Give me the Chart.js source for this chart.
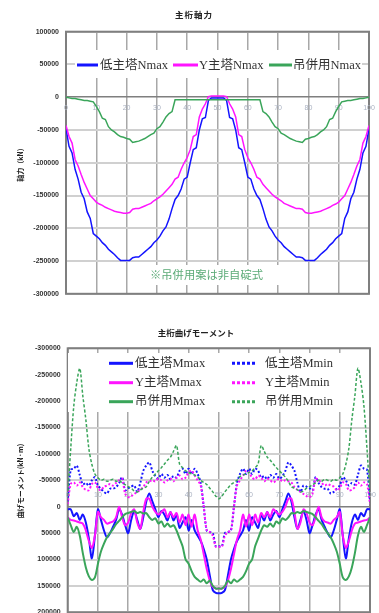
<!DOCTYPE html>
<html>
<head>
<meta charset="utf-8">
<script src="https://cdn.jsdelivr.net/npm/chart.js@4.4.1/dist/chart.umd.min.js"></script>
<style>
html, body { margin: 0; padding: 0; width: 379px; height: 613px; overflow: hidden; background: #fff; }
#axialChart { position: absolute; left: 0; top: 0; }
#momentChart { position: absolute; left: 0; top: 310px; }
</style>
</head>
<body>
<canvas id="axialChart" width="379" height="305"></canvas>
<canvas id="momentChart" width="379" height="320"></canvas>
<script>
/* 位置 (0〜100) */
const positions = [0,1,2,3,4,5,6,7,8,9,10,11,12,13,14,15,16,17,18,19,20,21,22,23,24,25,26,27,28,29,30,31,32,33,34,35,36,37,38,39,40,41,42,43,44,45,46,47,48,49,50,51,52,53,54,55,56,57,58,59,60,61,62,63,64,65,66,67,68,69,70,71,72,73,74,75,76,77,78,79,80,81,82,83,84,85,86,87,88,89,90,91,92,93,94,95,96,97,98,99,100];

/* 主桁軸力 (kN) */
const axialLabels = ['低主塔Nmax', 'Y主塔Nmax', '吊併用Nmax'];
const axialLow = [-48000,-75000,-85000,-110000,-125000,-145000,-155000,-175000,-185000,-208000,-212000,-216000,-222000,-226000,-232000,-236000,-240000,-245000,-249000,-249000,-249000,-249000,-245000,-244000,-244000,-240000,-236000,-232000,-228000,-222000,-218000,-212000,-204000,-198000,-186000,-170000,-156000,-150000,-140000,-125000,-122000,-100000,-80000,-77000,-50000,-33000,-31000,-5000,-1000,-1000,-1000,
  -1000,-1000,-5000,-31000,-33000,-50000,-77000,-80000,-100000,-122000,-125000,-140000,-150000,-156000,-170000,-186000,-198000,-204000,-212000,-218000,-222000,-228000,-232000,-236000,-240000,-244000,-244000,-245000,-249000,-249000,-249000,-249000,-245000,-240000,-236000,-232000,-226000,-222000,-216000,-212000,-208000,-185000,-175000,-155000,-145000,-125000,-110000,-85000,-75000,-48000];
const axialY = [-43000,-60000,-70000,-95000,-105000,-118000,-130000,-140000,-150000,-155000,-160000,-163000,-165000,-168000,-170000,-172000,-174000,-175000,-176000,-177000,-177000,-176000,-171000,-170000,-170000,-168000,-166000,-164000,-162000,-158000,-155000,-152000,-148000,-143000,-138000,-133000,-125000,-122000,-110000,-100000,-92000,-80000,-60000,-57000,-30000,-18000,-10000,1000,2000,2000,2000,
  2000,2000,1000,-10000,-18000,-30000,-57000,-60000,-80000,-92000,-100000,-110000,-122000,-125000,-133000,-138000,-143000,-148000,-152000,-155000,-158000,-162000,-164000,-166000,-168000,-170000,-170000,-171000,-176000,-177000,-177000,-176000,-175000,-174000,-172000,-170000,-168000,-165000,-163000,-160000,-155000,-150000,-140000,-130000,-118000,-105000,-95000,-70000,-60000,-43000];
const axialHang = [0,-1000,-2000,-2000,-3000,-4000,-5000,-5000,-6000,-7000,-14000,-22000,-32000,-34000,-45000,-50000,-53000,-57000,-60000,-61000,-63000,-64000,-69000,-68000,-67000,-65000,-63000,-60000,-57000,-55000,-48000,-45000,-38000,-30000,-25000,-22000,-4000,-4000,-4000,-4000,-4000,-4000,-4000,-4000,-4000,-4000,-4000,-4000,-4000,-4000,-4000,
  -4000,-4000,-4000,-4000,-4000,-4000,-4000,-4000,-4000,-4000,-4000,-4000,-4000,-4000,-22000,-25000,-30000,-38000,-45000,-48000,-55000,-57000,-60000,-63000,-65000,-67000,-68000,-69000,-64000,-63000,-61000,-60000,-57000,-53000,-50000,-45000,-34000,-32000,-22000,-14000,-7000,-6000,-5000,-5000,-4000,-3000,-2000,-2000,-1000,0];

/* 主桁曲げモーメント (kN·m) */
const momentLabels = ['低主塔Mmax', 'Y主塔Mmax', '吊併用Mmax', '低主塔Mmin', 'Y主塔Mmin', '吊併用Mmin'];
const momentMaxLow = [5000,5000,18000,12000,25000,15000,30000,60000,98000,55000,5000,25000,45000,58000,50000,38000,25000,5000,15000,35000,50000,25000,8000,25000,42000,20000,-10000,-25000,-10000,5000,20000,8000,15000,26000,10000,26000,15000,40000,30000,20000,45000,25000,45000,55000,65000,80000,100000,130000,158000,163000,164000,
  163000,158000,130000,100000,80000,65000,55000,45000,25000,45000,20000,30000,40000,15000,26000,10000,26000,15000,8000,20000,5000,-10000,-25000,-10000,20000,42000,25000,8000,25000,50000,35000,15000,5000,25000,38000,50000,58000,45000,25000,5000,55000,98000,60000,30000,15000,25000,12000,18000,5000,5000];
const momentMaxY = [20000,25000,26000,28000,30000,32000,45000,65000,78000,55000,10000,20000,25000,32000,30000,28000,20000,0,20000,35000,30000,12000,5000,30000,42000,10000,-15000,-15000,0,10000,15000,10000,5000,20000,10000,20000,12000,30000,15000,35000,15000,38000,15000,45000,62000,90000,118000,140000,152000,155000,155000,
  155000,152000,140000,118000,90000,62000,45000,15000,38000,15000,35000,15000,30000,12000,20000,10000,20000,5000,10000,15000,10000,0,-15000,-15000,10000,42000,30000,5000,12000,30000,35000,20000,0,20000,28000,30000,32000,25000,20000,10000,55000,78000,65000,45000,32000,30000,28000,26000,25000,20000];
const momentMaxHang = [20000,35000,48000,38000,55000,88000,115000,132000,139000,134000,108000,85000,70000,58000,50000,42000,33000,27000,20000,14000,12000,10000,8000,12000,10000,13000,12000,20000,25000,22000,32000,28000,38000,32000,38000,35000,45000,60000,75000,100000,108000,122000,133000,138000,142000,138000,145000,140000,150000,155000,155000,
  155000,150000,140000,145000,138000,142000,138000,133000,122000,108000,100000,75000,60000,45000,35000,38000,32000,38000,28000,32000,22000,25000,20000,12000,13000,10000,12000,8000,10000,12000,14000,20000,27000,33000,42000,50000,58000,70000,85000,108000,134000,139000,132000,115000,88000,55000,38000,48000,35000,20000];
const momentMinLow = [-10000,-70000,-72000,-78000,-60000,-42000,-45000,-40000,-50000,-56000,-40000,-34000,-28000,-25000,-34000,-34000,-37000,-45000,-56000,-31000,-35000,-38000,-40000,-28000,-45000,-68000,-78000,-84000,-68000,-58000,-53000,-62000,-55000,-60000,-52000,-58000,-55000,-68000,-72000,-62000,-72000,-62000,-72000,-62000,-45000,0,45000,48000,50000,75000,75000,
  75000,50000,48000,45000,0,-45000,-62000,-72000,-62000,-72000,-62000,-72000,-68000,-55000,-58000,-52000,-60000,-55000,-62000,-53000,-58000,-68000,-84000,-78000,-68000,-45000,-28000,-40000,-38000,-35000,-31000,-56000,-45000,-37000,-34000,-34000,-25000,-28000,-34000,-40000,-56000,-50000,-40000,-45000,-42000,-60000,-78000,-72000,-70000,-10000];
const momentMinY = [-5000,-43000,-46000,-40000,-46000,-37000,-32000,-31000,-43000,-46000,-35000,-31000,-38000,-40000,-43000,-40000,-45000,-50000,-53000,-25000,-18000,-20000,-24000,-28000,-32000,-37000,-46000,-48000,-50000,-48000,-53000,-50000,-46000,-50000,-53000,-48000,-55000,-59000,-52000,-55000,-65000,-68000,-59000,-50000,-40000,0,45000,48000,55000,76000,76000,
  76000,55000,48000,45000,0,-40000,-50000,-59000,-68000,-65000,-55000,-52000,-59000,-55000,-48000,-53000,-50000,-46000,-50000,-53000,-48000,-50000,-48000,-46000,-37000,-32000,-28000,-24000,-20000,-18000,-25000,-53000,-50000,-45000,-40000,-43000,-40000,-38000,-31000,-35000,-46000,-43000,-31000,-32000,-37000,-46000,-40000,-46000,-43000,-5000];
const momentMinHang = [-20000,-110000,-190000,-235000,-262000,-210000,-165000,-110000,-80000,-62000,-55000,-50000,-52000,-48000,-50000,-52000,-48000,-50000,-45000,-42000,-38000,-35000,-30000,-28000,-32000,-35000,-38000,-48000,-56000,-62000,-68000,-74000,-81000,-88000,-94000,-105000,-116000,-81000,-74000,-68000,-65000,-62000,-60000,-57000,-50000,-46000,-42000,-35000,-28000,-20000,-15000,
  -20000,-28000,-35000,-42000,-46000,-50000,-57000,-60000,-62000,-65000,-68000,-74000,-81000,-116000,-105000,-94000,-88000,-81000,-74000,-68000,-62000,-56000,-48000,-38000,-35000,-32000,-28000,-30000,-35000,-38000,-42000,-45000,-50000,-48000,-52000,-50000,-48000,-52000,-50000,-55000,-62000,-80000,-110000,-165000,-210000,-262000,-235000,-190000,-110000,-20000];

const BLUE = '#1414ff';
const MAGENTA = '#ff14ff';
const GREEN = '#3aa55a';

const pts = (ys) => positions.map((x, i) => ({ x: x, y: ys[i] }));

// 枠・凡例・注記・軸ラベルの描画
function decor(cfg) {
  return {
    id: 'decor',
    beforeDatasetsDraw(chart) {
      const ctx = chart.ctx;
      const a = chart.chartArea;
      const xs = chart.scales.x;
      const ys = chart.scales.y;
      ctx.save();
      ctx.strokeStyle = '#7f7f7f';
      ctx.lineWidth = 2;
      ctx.strokeRect(a.left, a.top, a.right - a.left, a.bottom - a.top);

      // x軸目盛ラベル (0 の線上)
      const y0 = ys.getPixelForValue(0);
      ctx.fillStyle = '#aab2c2';
      ctx.font = "7px 'Liberation Sans', sans-serif";
      ctx.textAlign = 'center';
      ctx.textBaseline = 'middle';
      xs.ticks.forEach(t => {
        ctx.fillText(String(t.value), xs.getPixelForValue(t.value), y0 + cfg.xLabelOffset);
      });

      // 白い箱
      ctx.fillStyle = '#fff';
      cfg.boxes.forEach(b => ctx.fillRect(b[0], b[1], b[2], b[3]));

      // 凡例
      ctx.font = "12.5px 'Liberation Serif', 'Noto Sans CJK JP', serif";
      ctx.textAlign = 'left';
      ctx.fillStyle = '#333';
      cfg.legend.forEach(it => {
        const ds = chart.data.datasets[it.index];
        ctx.beginPath();
        ctx.strokeStyle = ds.borderColor;
        ctx.lineWidth = 3;
        ctx.setLineDash(ds.borderDash && ds.borderDash.length ? [3, 2] : []);
        ctx.moveTo(it.x1, it.y);
        ctx.lineTo(it.x2, it.y);
        ctx.stroke();
        ctx.setLineDash([]);
        ctx.fillText(ds.label, it.tx, it.y + 0.5);
      });

      // 注記
      if (cfg.note) {
        ctx.font = "11.3px 'Noto Sans CJK JP', sans-serif";
        ctx.fillStyle = '#5aaa76';
        ctx.textAlign = 'center';
        ctx.fillText(cfg.note.text, cfg.note.x, cfg.note.y);
      }
      ctx.restore();
    },
    afterDraw(chart) {
      const ctx = chart.ctx;
      ctx.save();
      ctx.fillStyle = '#222';
      ctx.textAlign = 'center';
      ctx.textBaseline = 'middle';
      ctx.font = "bold 8.5px 'Noto Sans CJK JP', sans-serif";
      ctx.letterSpacing = cfg.titleSpacing;
      ctx.fillText(cfg.title, cfg.titleX, cfg.titleY);
      ctx.letterSpacing = '0px';
      ctx.font = "bold 7px 'Noto Sans CJK JP', sans-serif";
      ctx.translate(20, cfg.yTitleY);
      ctx.rotate(-Math.PI / 2);
      ctx.fillText(cfg.yTitle, 0, 0);
      ctx.restore();
    }
  };
}

function yAxis(min, max, reverse, width) {
  return {
    min: min,
    max: max,
    reverse: reverse,
    afterFit(scale) { scale.width = width; },
    ticks: {
      stepSize: 50000,
      padding: 7,
      color: '#333',
      font: { family: "'Liberation Sans', Arial, sans-serif", size: 7, weight: 'bold' },
      callback: (v) => String(v)
    },
    grid: {
      color: (c) => (c.tick && c.tick.value === 0) ? '#7f7f7f' : '#d0d0d0',
      lineWidth: (c) => (c.tick && c.tick.value === 0) ? 1.5 : 2,
      drawTicks: false
    },
    border: { display: false }
  };
}

const xAxis = {
  type: 'linear',
  min: 0,
  max: 100,
  afterFit(scale) { scale.height = 0; },
  ticks: { stepSize: 10, display: false },
  grid: { color: '#a8a8a8', lineWidth: 1.5, drawTicks: false },
  border: { display: false }
};

/* 主桁軸力 */
const axialCtx = document.getElementById('axialChart').getContext('2d');
const axialChart = new Chart(axialCtx, {
  type: 'line',
  data: {
    datasets: [
      { label: axialLabels[0], data: pts(axialLow), borderColor: BLUE, borderWidth: 1.5, order: 3 },
      { label: axialLabels[1], data: pts(axialY), borderColor: MAGENTA, borderWidth: 1.5, order: 2 },
      { label: axialLabels[2], data: pts(axialHang), borderColor: GREEN, borderWidth: 1.5, order: 1 }
    ]
  },
  options: {
    responsive: false,
    animation: false,
    devicePixelRatio: 1,
    layout: { padding: { top: 31.7, right: 10, bottom: 9.7, left: 0 } },
    elements: { point: { radius: 0 }, line: { tension: 0 } },
    plugins: { legend: { display: false }, tooltip: { enabled: false }, title: { display: false } },
    scales: { x: xAxis, y: yAxis(-300000, 100000, false, 66) }
  },
  plugins: [decor({
    title: '主桁軸力', titleX: 194, titleY: 15, titleSpacing: '1px',
    yTitle: '軸力（kN）', yTitleY: 163,
    xLabelOffset: 11,
    boxes: [[75, 50, 287, 28], [145, 265, 147, 20]],
    legend: [
      { index: 0, x1: 77, x2: 98, tx: 100, y: 65 },
      { index: 1, x1: 173, x2: 198, tx: 199, y: 65 },
      { index: 2, x1: 269, x2: 292, tx: 293, y: 65 }
    ],
    note: { text: '※吊併用案は非自碇式', x: 206.5, y: 275 }
  })]
});

/* 主桁曲げモーメント */
const momentCtx = document.getElementById('momentChart').getContext('2d');
const momentChart = new Chart(momentCtx, {
  type: 'line',
  data: {
    datasets: [
      { label: momentLabels[0], data: pts(momentMaxLow), borderColor: BLUE, borderWidth: 2, order: 6 },
      { label: momentLabels[1], data: pts(momentMaxY), borderColor: MAGENTA, borderWidth: 2, order: 5 },
      { label: momentLabels[2], data: pts(momentMaxHang), borderColor: GREEN, borderWidth: 2, order: 4 },
      { label: momentLabels[3], data: pts(momentMinLow), borderColor: BLUE, borderWidth: 2, borderDash: [2, 2], order: 3 },
      { label: momentLabels[4], data: pts(momentMinY), borderColor: MAGENTA, borderWidth: 2, borderDash: [2, 2], order: 2 },
      { label: momentLabels[5], data: pts(momentMinHang), borderColor: GREEN, borderWidth: 1.5, borderDash: [3, 2], order: 1 }
    ]
  },
  options: {
    responsive: false,
    animation: false,
    devicePixelRatio: 1,
    layout: { padding: { top: 38.3, right: 9, bottom: 17.7, left: 0 } },
    elements: { point: { radius: 0 }, line: { tension: 0.3 } },
    plugins: { legend: { display: false }, tooltip: { enabled: false }, title: { display: false } },
    scales: { x: xAxis, y: yAxis(-300000, 200000, true, 67.7) }
  },
  plugins: [decor({
    title: '主桁曲げモーメント', titleX: 196, titleY: 22.7, titleSpacing: '0px',
    yTitle: '曲げモーメント(kN·m)', yTitleY: 171,
    xLabelOffset: -12,
    boxes: [[68, 43, 301, 59]],
    legend: [
      { index: 0, x1: 109, x2: 133, tx: 135, y: 53.3 },
      { index: 1, x1: 109, x2: 133, tx: 135, y: 72.7 },
      { index: 2, x1: 109, x2: 133, tx: 135, y: 91.7 },
      { index: 3, x1: 232, x2: 257, tx: 265, y: 53.3 },
      { index: 4, x1: 232, x2: 257, tx: 265, y: 72.7 },
      { index: 5, x1: 232, x2: 257, tx: 265, y: 91.7 }
    ]
  })]
});
</script>
</body>
</html>
